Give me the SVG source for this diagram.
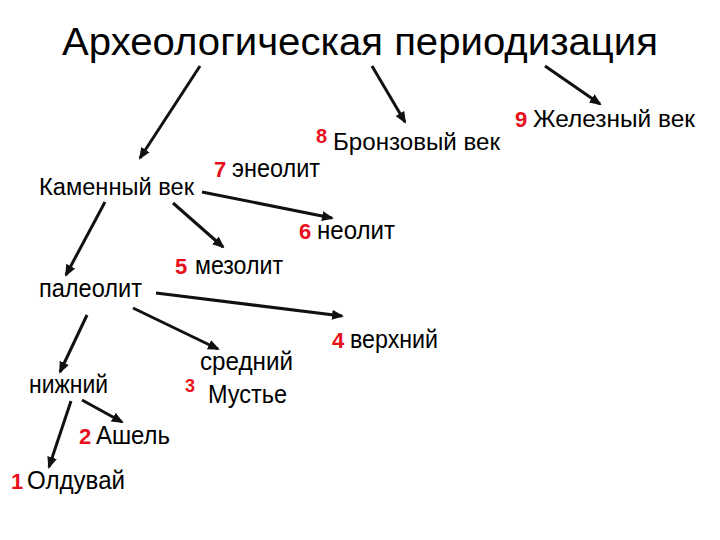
<svg xmlns="http://www.w3.org/2000/svg" width="720" height="540" viewBox="0 0 720 540">
<defs>
<style>
.t{font-family:"Liberation Sans",Arial,sans-serif;font-size:25px;fill:#000}
.n{font-family:"Liberation Sans",Arial,sans-serif;font-size:22px;font-weight:bold;fill:#e8101a}
.title{font-family:"Liberation Sans",Arial,sans-serif;font-size:38px;fill:#000}
.c line{stroke:#111;stroke-width:3;marker-end:url(#ah)}
</style>
<marker id="ah" markerUnits="userSpaceOnUse" markerWidth="13" markerHeight="11" refX="10" refY="5" orient="auto">
<path d="M0,0 L12,5 L0,10 z" fill="#111"/>
</marker>
</defs>
<rect width="720" height="540" fill="#fff"/>
<g id="title"><text class="title" x="62" y="55" textLength="596" lengthAdjust="spacingAndGlyphs">Археологическая периодизация</text></g>
<g class="c" id="connectors">
<line x1="200" y1="66" x2="140" y2="158"/>
<line x1="372" y1="66" x2="405" y2="122"/>
<line x1="545" y1="66" x2="600" y2="104"/>
<line x1="202" y1="192" x2="332" y2="218"/>
<line x1="173" y1="203" x2="223" y2="247"/>
<line x1="105" y1="202" x2="66" y2="275"/>
<line x1="156" y1="293" x2="342" y2="316"/>
<line x1="133" y1="308" x2="218" y2="349"/>
<line x1="87" y1="315" x2="60" y2="372"/>
<line x1="82" y1="400" x2="122" y2="422"/>
<line x1="71" y1="401" x2="49" y2="467"/>
</g>
<g id="kamenny"><text class="t" x="39" y="195" style="font-size:23px" textLength="155" lengthAdjust="spacingAndGlyphs">Каменный век</text></g>
<g id="bronze"><text class="n" x="316" y="143" style="font-size:20px">8</text><text class="t" x="333" y="150" style="font-size:24px" textLength="167" lengthAdjust="spacingAndGlyphs">Бронзовый век</text></g>
<g id="iron"><text class="n" x="515" y="127">9</text><text class="t" x="533" y="127" style="font-size:23px" textLength="162" lengthAdjust="spacingAndGlyphs">Железный век</text></g>
<g id="eneolit"><text class="n" x="214" y="177">7</text><text class="t" x="232" y="177" textLength="88" lengthAdjust="spacingAndGlyphs">энеолит</text></g>
<g id="neolit"><text class="n" x="299" y="239">6</text><text class="t" x="317" y="239" textLength="78" lengthAdjust="spacingAndGlyphs">неолит</text></g>
<g id="mezolit"><text class="n" x="175" y="274">5</text><text class="t" x="195" y="274" textLength="88" lengthAdjust="spacingAndGlyphs">мезолит</text></g>
<g id="paleolit"><text class="t" x="39" y="297" textLength="103" lengthAdjust="spacingAndGlyphs">палеолит</text></g>
<g id="verhniy"><text class="n" x="332" y="348">4</text><text class="t" x="350" y="348" textLength="88" lengthAdjust="spacingAndGlyphs">верхний</text></g>
<g id="sredniy"><text class="t" x="200" y="370" textLength="93" lengthAdjust="spacingAndGlyphs">средний</text><text class="n" x="185" y="392" style="font-size:18px">3</text><text class="t" x="208" y="403" textLength="79" lengthAdjust="spacingAndGlyphs">Мустье</text></g>
<g id="nizhniy"><text class="t" x="29" y="393" textLength="79" lengthAdjust="spacingAndGlyphs">нижний</text></g>
<g id="ashel"><text class="n" x="79" y="444">2</text><text class="t" x="96" y="444" textLength="74" lengthAdjust="spacingAndGlyphs">Ашель</text></g>
<g id="olduvai"><text class="n" x="11" y="489">1</text><text class="t" x="27" y="489" textLength="98" lengthAdjust="spacingAndGlyphs">Олдувай</text></g>
</svg>
